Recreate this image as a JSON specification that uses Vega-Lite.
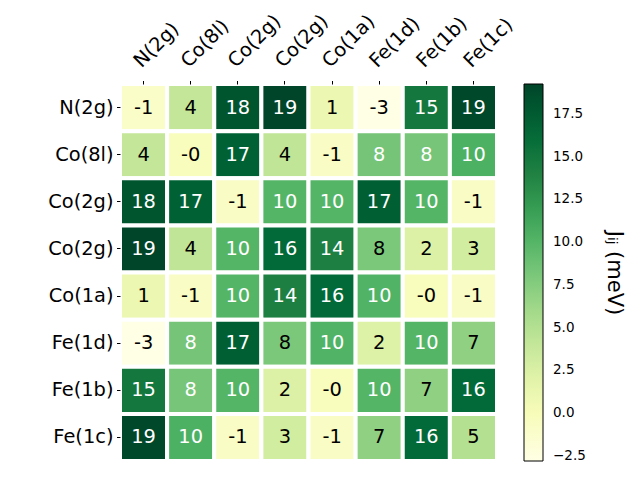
{
  "$schema": "https://vega.github.io/schema/vega-lite/v6.json",
  "width": 377,
  "height": 377,
  "autosize": {"type": "none"},
  "padding": {"left": 120, "top": 84, "right": 143, "bottom": 19},
  "background": "white",
  "config": {
    "font": "DejaVu Sans",
    "view": {"stroke": null},
    "axis": {"domain": false, "tickColor": "black", "tickSize": 3.5, "labelColor": "black", "labelFontSize": 19.4, "labelPadding": 3.5, "title": null}
  },
  "data": {"values": [
    {"r":0,"c":0,"v":-1.0},{"r":0,"c":1,"v":4.1},{"r":0,"c":2,"v":18.0},{"r":0,"c":3,"v":19.25},{"r":0,"c":4,"v":1.0},{"r":0,"c":5,"v":-2.8},{"r":0,"c":6,"v":15.0},{"r":0,"c":7,"v":19.0},
    {"r":1,"c":0,"v":4.1},{"r":1,"c":1,"v":-0.3},{"r":1,"c":2,"v":17.0},{"r":1,"c":3,"v":4.3},{"r":1,"c":4,"v":-0.8},{"r":1,"c":5,"v":8.4},{"r":1,"c":6,"v":8.3},{"r":1,"c":7,"v":10.4},
    {"r":2,"c":0,"v":18.0},{"r":2,"c":1,"v":17.0},{"r":2,"c":2,"v":-0.8},{"r":2,"c":3,"v":10.0},{"r":2,"c":4,"v":10.0},{"r":2,"c":5,"v":17.2},{"r":2,"c":6,"v":10.0},{"r":2,"c":7,"v":-0.8},
    {"r":3,"c":0,"v":19.25},{"r":3,"c":1,"v":4.3},{"r":3,"c":2,"v":10.0},{"r":3,"c":3,"v":16.3},{"r":3,"c":4,"v":14.2},{"r":3,"c":5,"v":8.0},{"r":3,"c":6,"v":2.4},{"r":3,"c":7,"v":3.2},
    {"r":4,"c":0,"v":1.0},{"r":4,"c":1,"v":-0.8},{"r":4,"c":2,"v":10.0},{"r":4,"c":3,"v":14.2},{"r":4,"c":4,"v":16.3},{"r":4,"c":5,"v":10.2},{"r":4,"c":6,"v":-0.3},{"r":4,"c":7,"v":-0.8},
    {"r":5,"c":0,"v":-2.8},{"r":5,"c":1,"v":8.4},{"r":5,"c":2,"v":17.2},{"r":5,"c":3,"v":8.0},{"r":5,"c":4,"v":10.2},{"r":5,"c":5,"v":2.3},{"r":5,"c":6,"v":10.0},{"r":5,"c":7,"v":7.0},
    {"r":6,"c":0,"v":15.0},{"r":6,"c":1,"v":8.3},{"r":6,"c":2,"v":10.0},{"r":6,"c":3,"v":2.4},{"r":6,"c":4,"v":-0.3},{"r":6,"c":5,"v":10.0},{"r":6,"c":6,"v":7.0},{"r":6,"c":7,"v":16.3},
    {"r":7,"c":0,"v":19.0},{"r":7,"c":1,"v":10.4},{"r":7,"c":2,"v":-0.8},{"r":7,"c":3,"v":3.2},{"r":7,"c":4,"v":-0.8},{"r":7,"c":5,"v":7.0},{"r":7,"c":6,"v":16.3},{"r":7,"c":7,"v":5.0}
  ]},
  "transform": [
    {"calculate": "(datum.v < 0 ? '-' : '') + abs(round(datum.v))", "as": "lbl"}
  ],
  "encoding": {
    "x": {"field": "c", "type": "ordinal", "scale": {"paddingInner": 0, "paddingOuter": 0},
      "axis": {"orient": "top", "labelAngle": -45, "labelAlign": "left", "labelBaseline": "alphabetic",
        "labelOffset": -2, "labelPadding": 12.5,
        "labelExpr": "['N(2g)','Co(8l)','Co(2g)','Co(2g)','Co(1a)','Fe(1d)','Fe(1b)','Fe(1c)'][datum.value]"}},
    "y": {"field": "r", "type": "ordinal", "scale": {"paddingInner": 0, "paddingOuter": 0},
      "axis": {"labelExpr": "['N(2g)','Co(8l)','Co(2g)','Co(2g)','Co(1a)','Fe(1d)','Fe(1b)','Fe(1c)'][datum.value]"}}
  },
  "layer": [
    {
      "mark": {"type": "rect", "stroke": "white", "strokeWidth": 4},
      "encoding": {
        "color": {"field": "v", "type": "quantitative",
          "scale": {"domain": [-2.8, -0.04375, 2.7125, 5.46875, 8.225, 10.98125, 13.7375, 16.49375, 19.25],
            "range": ["#ffffe5", "#f7fcb9", "#d9f0a3", "#addd8e", "#78c679", "#41ab5d", "#238443", "#006837", "#004529"],
            "interpolate": "rgb"},
          "legend": {"type": "gradient", "orient": "right", "offset": 27, "gradientLength": 377, "gradientThickness": 19,
            "gradientStrokeColor": "black", "gradientStrokeWidth": 1,
            "values": [-2.5, 0, 2.5, 5, 7.5, 10, 12.5, 15, 17.5], "format": ".1f",
            "labelFontSize": 13.5, "labelColor": "black", "labelOffset": 10,
            "title": "Jᵢⱼ (meV)", "titleOrient": "right", "titleAngle": 90, "titleAnchor": "middle",
            "titleFontSize": 21, "titleFontWeight": "normal", "titleColor": "black", "titlePadding": 18}}
      }
    },
    {
      "mark": {"type": "text", "fontSize": 19.4},
      "encoding": {
        "text": {"field": "lbl"},
        "color": {"condition": {"test": "datum.v > 8.225", "value": "white"}, "value": "black"}
      }
    }
  ]
}
